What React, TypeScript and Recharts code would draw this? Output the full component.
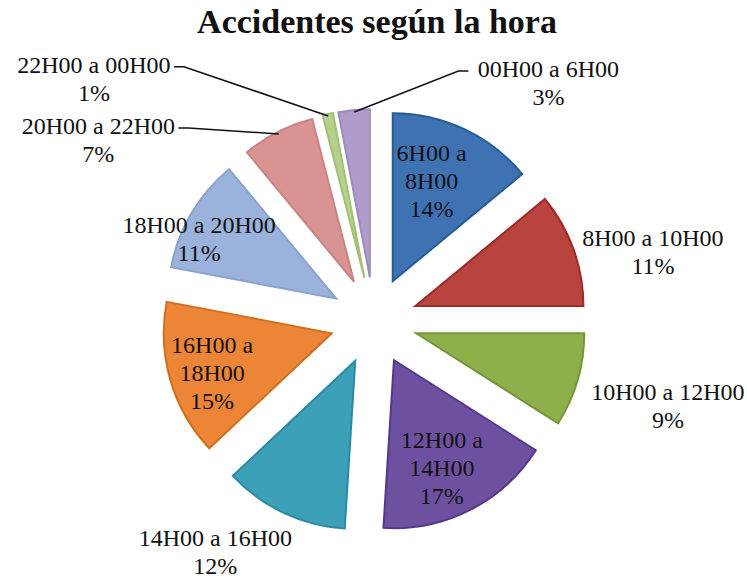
import { PieChart, Pie, Sector } from "recharts";

const SLICE_NAMES = [
  "6H00 a 8H00",
  "8H00 a 10H00",
  "10H00 a 12H00",
  "12H00 a 14H00",
  "14H00 a 16H00",
  "16H00 a 18H00",
  "18H00 a 20H00",
  "20H00 a 22H00",
  "22H00 a 00H00",
  "00H00 a 6H00",
];
const SLICE_VALUES = [14, 11, 9, 17, 12, 15, 11, 7, 1, 3];

const COLORS = [
  "#3f72b2", "#b8433f", "#8db04b", "#6d51a0", "#3ca0b9",
  "#ec8636", "#9bb2dc", "#d99492", "#b5d18a", "#ae9dcc",
];
const STROKES = [
  "#285a96", "#9c2a27", "#76963a", "#55388a", "#2a8aa3",
  "#d0701f", "#8aa2cc", "#c98583", "#a3c078", "#9d8cbc",
];

// label placement: radius factor from the exploded slice centre, angle tweak,
// whether the name wraps onto two lines, and leader line
const LABEL_LAYOUT = [
  { k: 0.64, da: 4, wrap: true, leader: false },
  { k: 1.45, da: -7, wrap: false, leader: false },
  { k: 1.56, da: 0, wrap: false, leader: false },
  { k: 0.7, da: -3, wrap: true, leader: false },
  { k: 1.41, da: -11, wrap: false, leader: false },
  { k: 0.75, da: 2, wrap: true, leader: false },
  { k: 0.89, da: 7, wrap: false, leader: false },
  { k: 1.74, da: 34, wrap: false, leader: true },
  { k: 2.0, da: 41, wrap: false, leader: true },
  { k: 1.57, da: -48, wrap: false, leader: true },
];

const data = SLICE_NAMES.map((name, i) => ({ name, value: SLICE_VALUES[i] }));

const EXPLODE = 44;
const FONT = "'Liberation Serif', 'Times New Roman', serif";
const RAD = Math.PI / 180;

function explodedCentre(p: any) {
  return {
    ex: p.cx + EXPLODE * Math.cos(p.midAngle * RAD),
    ey: p.cy - EXPLODE * Math.sin(p.midAngle * RAD),
  };
}

function renderSlice(p: any) {
  const { ex, ey } = explodedCentre(p);
  return (
    <Sector
      key={`s-${p.index}`}
      cx={ex}
      cy={ey}
      innerRadius={0}
      outerRadius={p.outerRadius}
      startAngle={p.startAngle}
      endAngle={p.endAngle}
      fill={COLORS[p.index]}
      stroke={STROKES[p.index]}
      strokeWidth={2}
    />
  );
}

function renderLabel(p: any) {
  const { ex, ey } = explodedCentre(p);
  const lay = LABEL_LAYOUT[p.index];
  const a = (p.midAngle + lay.da) * RAD;
  const lx = ex + p.outerRadius * lay.k * Math.cos(a);
  const ly = ey - p.outerRadius * lay.k * Math.sin(a);
  const pct = `${Math.round(p.percent * 100)}%`;
  const name: string = p.name;
  let lines: string[];
  if (lay.wrap) {
    const cut = name.indexOf(" a ") + 2;
    lines = [name.slice(0, cut), name.slice(cut + 1), pct];
  } else {
    lines = [name, pct];
  }
  const lh = 28;
  const first = ly - ((lines.length - 1) * lh) / 2 + 8;

  let leader = null;
  if (lay.leader) {
    const px = ex + (p.outerRadius - 2) * Math.cos(p.midAngle * RAD);
    const py = ey - (p.outerRadius - 2) * Math.sin(p.midAngle * RAD);
    const s = lx < px ? 1 : -1;
    const edge = lx + s * 80;
    const yl = first - 6;
    leader = (
      <polyline
        points={`${px},${py} ${edge + s * 10},${yl} ${edge},${yl}`}
        fill="none"
        stroke="#111"
        strokeWidth={1.5}
      />
    );
  }

  return (
    <g key={`l-${p.index}`}>
      {leader}
      <text x={lx} y={first} textAnchor="middle" fontFamily={FONT} fontSize={24} fill="#111">
        {lines.map((t, i) => (
          <tspan key={i} x={lx} y={first + i * lh}>
            {t}
          </tspan>
        ))}
      </text>
    </g>
  );
}

export default function App() {
  return (
    <div style={{ position: "absolute", left: 0, top: 0, width: 747, height: 579, background: "#fff" }}>
      <div
        style={{
          position: "absolute",
          left: 0,
          top: 2,
          width: 754,
          textAlign: "center",
          fontFamily: FONT,
          fontWeight: "bold",
          fontSize: 34,
          lineHeight: "40px",
          color: "#111",
        }}
      >
        Accidentes según la hora
      </div>
      <PieChart width={747} height={579} margin={{ top: 0, right: 0, bottom: 0, left: 0 }}>
        <Pie
          data={data}
          dataKey="value"
          nameKey="name"
          cx={374}
          cy={321}
          outerRadius={168}
          startAngle={90}
          endAngle={-270}
          fill="none"
          stroke="none"
          label={renderSlice}
          labelLine={false}
          isAnimationActive={false}
        />
        <Pie
          data={data}
          dataKey="value"
          nameKey="name"
          cx={374}
          cy={321}
          outerRadius={168}
          startAngle={90}
          endAngle={-270}
          fill="none"
          stroke="none"
          label={renderLabel}
          labelLine={false}
          isAnimationActive={false}
        />
      </PieChart>
    </div>
  );
}
